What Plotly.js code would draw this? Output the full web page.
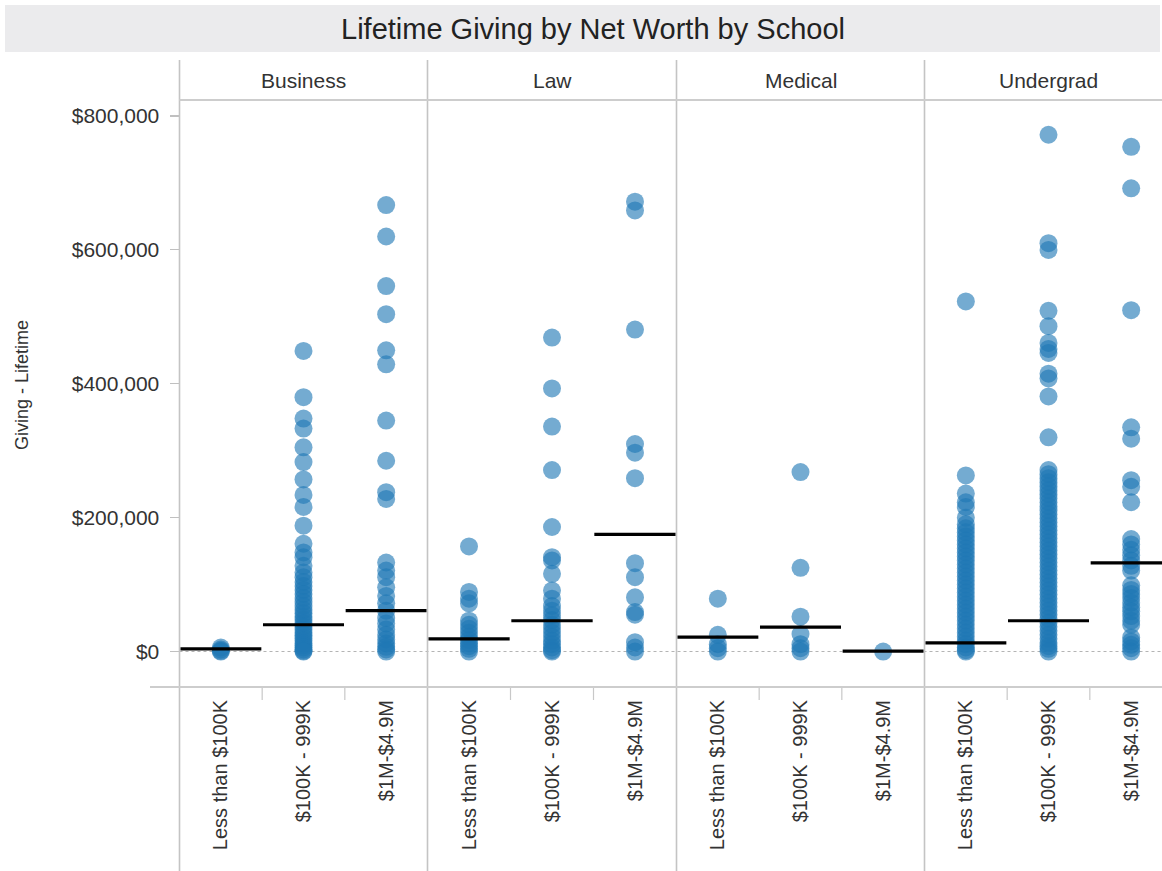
<!DOCTYPE html>
<html>
<head>
<meta charset="utf-8">
<script src="https://cdn.plot.ly/plotly-3.0.1.min.js"></script>
<style>html,body{margin:0;padding:0;background:#fff;}#chart{width:1162px;height:871px;}</style>
</head>
<body>
<div id="chart"></div>
<script>
// ---- Data ----
const schools = ['Business', 'Law', 'Medical', 'Undergrad'];
const worthCats = ['Less than $100K', '$100K - 999K', '$1M-$4.9M'];
const yTickVals = [0, 200000, 400000, 600000, 800000];
const yTickText = ['$0', '$200,000', '$400,000', '$600,000', '$800,000'];

const businessLess = [6000, 3000, 1000, 0];
const businessMid = [449000, 380000, 348000, 333000, 305000, 283000, 257000, 234000, 216000, 188000, 161000, 148000, 141000, 128000, 118000, 111000, 104000, 98000, 92000, 86000, 80000, 74000, 68000, 62000, 57000, 52000, 47000, 42000, 37000, 32000, 28000, 24000, 20000, 16000, 12000, 9000, 6000, 3000, 1000, 0];
const businessHigh = [667000, 620000, 546000, 504000, 450000, 429000, 345000, 285000, 238000, 228000, 133000, 121000, 111000, 96000, 83000, 72000, 61000, 50000, 42000, 33000, 25000, 18000, 12000, 7000, 3000, 0];
const businessMeans = [4000, 40000, 61000];

const lawLess = [157000, 89000, 79000, 72000, 46000, 40000, 34000, 28000, 22000, 17000, 12000, 8000, 4000, 0];
const lawMid = [469000, 393000, 336000, 271000, 186000, 141000, 136000, 116000, 91000, 79000, 68000, 61000, 54000, 47000, 40000, 34000, 28000, 22000, 16000, 11000, 6000, 2000, 0];
const lawHigh = [672000, 659000, 481000, 310000, 297000, 259000, 132000, 111000, 81000, 59000, 55000, 14000, 6000, 0];
const lawMeans = [19000, 46000, 175000];

const medicalLess = [79000, 25000, 11000, 5000, 0];
const medicalMid = [268000, 125000, 52000, 26000, 11000, 5000, 0];
const medicalHigh = [0];
const medicalMeans = [21500, 36500, 600];

const undergradLess = [523000, 263000, 236000, 223000, 216000, 200000, 190000, 184000, 178000, 172000, 166000, 160000, 154000, 148000, 142000, 136000, 130000, 124000, 118000, 112000, 106000, 100000, 94000, 88000, 82000, 76000, 70000, 64000, 58000, 52000, 46000, 40000, 34000, 28000, 22000, 16000, 11000, 6000, 2000, 0];
const undergradMid = [772000, 610000, 600000, 509000, 486000, 461000, 452000, 446000, 415000, 408000, 381000, 320000, 271000, 265000, 259000, 253000, 247000, 241000, 235000, 229000, 223000, 217000, 211000, 205000, 199000, 193000, 187000, 181000, 175000, 169000, 163000, 157000, 151000, 145000, 139000, 133000, 127000, 121000, 115000, 109000, 103000, 97000, 91000, 85000, 79000, 73000, 67000, 61000, 55000, 49000, 43000, 37000, 31000, 25000, 19000, 13000, 8000, 4000, 0];
const undergradHigh = [754000, 692000, 510000, 335000, 318000, 256000, 246000, 223000, 168000, 160000, 152000, 144000, 136000, 128000, 121000, 99000, 92000, 86000, 80000, 73000, 66000, 60000, 53000, 46000, 40000, 21000, 15000, 10000, 5000, 0];
const undergradMeans = [13000, 46000, 132500];

// ---- Build ----
const W = 1162, H = 871;
const px = v => v / W;
const py = v => 1 - v / H;
const FONT = 'Liberation Sans, Arial, sans-serif';
const TXT = '#333333';

const panelData = [
  [businessLess, businessMid, businessHigh],
  [lawLess, lawMid, lawHigh],
  [medicalLess, medicalMid, medicalHigh],
  [undergradLess, undergradMid, undergradHigh]
];
const panelMeans = [businessMeans, lawMeans, medicalMeans, undergradMeans];

const panelEdges = [179.5, 427.5, 676.5, 924.5, 1162];
const catPx = 82.67;

const traces = [];
const layout = {
  width: W, height: H,
  margin: {l: 0, r: 0, t: 0, b: 0},
  paper_bgcolor: '#ffffff', plot_bgcolor: 'rgba(0,0,0,0)',
  showlegend: false, hovermode: false,
  font: {family: FONT, color: TXT},
  shapes: [], annotations: []
};

panelData.forEach((cols, p) => {
  const ax = p === 0 ? '' : String(p + 1);
  const xName = 'x' + ax;
  cols.forEach((vals, c) => {
    traces.push({
      type: 'scatter', mode: 'markers',
      x: vals.map(() => c), y: vals,
      xaxis: xName, yaxis: 'y',
      marker: {size: 18, color: '#1f77b4', opacity: 0.62, line: {width: 0}},
      cliponaxis: false
    });
  });
  const mx = [], my = [];
  panelMeans[p].forEach((m, c) => {
    mx.push(c - 0.49, c + 0.49, null);
    my.push(m, m, null);
  });
  traces.push({
    type: 'scatter', mode: 'lines', x: mx, y: my,
    xaxis: xName, yaxis: 'y',
    line: {color: '#000000', width: 3.2}
  });
  const x0 = panelEdges[p], x1 = panelEdges[p + 1];
  const rangeMax = -0.5 + (x1 - x0) / catPx;
  layout['xaxis' + ax] = {
    domain: [px(x0), px(x1)],
    range: [-0.5, p === 3 ? rangeMax : 2.5],
    anchor: 'y',
    tickvals: [0, 1, 2], ticktext: worthCats,
    tickangle: -90, ticks: '',
    ticklabelstandoff: 8,
    tickfont: {family: FONT, size: 20, color: TXT},
    showgrid: false, zeroline: false, showline: false, fixedrange: true
  };
  // category separator ticks
  [0.5, 1.5].forEach(b => {
    layout.shapes.push({type: 'line', xref: xName, yref: 'paper',
      x0: b, x1: b, y0: py(687), y1: py(700),
      line: {color: '#c8c8c8', width: 1.2}});
  });
  // header label
  layout.annotations.push({
    text: schools[p], xref: 'paper', yref: 'paper',
    x: px((x0 + (p === 3 ? x0 + 3 * catPx : x1)) / 2), y: py(80),
    xanchor: 'center', yanchor: 'middle', showarrow: false,
    font: {family: FONT, size: 21, color: TXT}
  });
});

layout.yaxis = {
  domain: [py(687), py(100)],
  range: [-53000, 823900],
  anchor: 'x',
  tickvals: yTickVals, ticktext: yTickText,
  ticks: 'outside', ticklen: 9, tickwidth: 1.2, tickcolor: '#c0c0c0',
  ticklabelstandoff: 6,
  tickfont: {family: FONT, size: 21, color: TXT},
  showgrid: false, zeroline: false, showline: false, fixedrange: true
};

// title band
layout.shapes.push({type: 'rect', xref: 'paper', yref: 'paper', layer: 'below',
  x0: px(5), x1: px(1160), y0: py(52), y1: py(5),
  fillcolor: '#ebebed', line: {width: 0}});
// zero dotted line
layout.shapes.push({type: 'line', xref: 'paper', yref: 'y', layer: 'below',
  x0: px(179.5), x1: 1, y0: 0, y1: 0,
  line: {color: '#b4b4b4', width: 1.2, dash: 'dot'}});
// vertical separators
[179.5, 427.5, 676.5, 924.5].forEach(xv => {
  layout.shapes.push({type: 'line', xref: 'paper', yref: 'paper',
    x0: px(xv), x1: px(xv), y0: py(60), y1: 0,
    line: {color: '#c4c4c4', width: 1.6}});
});
// horizontal frame lines
layout.shapes.push({type: 'line', xref: 'paper', yref: 'paper',
  x0: px(179.5), x1: 1, y0: py(100), y1: py(100),
  line: {color: '#cdcdcd', width: 2.2}});
layout.shapes.push({type: 'line', xref: 'paper', yref: 'paper',
  x0: px(150), x1: 1, y0: py(687), y1: py(687),
  line: {color: '#cdcdcd', width: 2.2}});

// title
layout.annotations.push({
  text: 'Lifetime Giving by Net Worth by School', xref: 'paper', yref: 'paper',
  x: px(592.5), y: py(29), xanchor: 'center', yanchor: 'middle', showarrow: false,
  font: {family: FONT, size: 29, color: '#222222'}
});
// y axis title
layout.annotations.push({
  text: 'Giving - Lifetime', xref: 'paper', yref: 'paper',
  x: px(22), y: py(385), xanchor: 'center', yanchor: 'middle', showarrow: false,
  textangle: -90,
  font: {family: FONT, size: 18, color: TXT}
});

Plotly.newPlot('chart', traces, layout, {displayModeBar: false, staticPlot: true});
</script>
</body>
</html>
